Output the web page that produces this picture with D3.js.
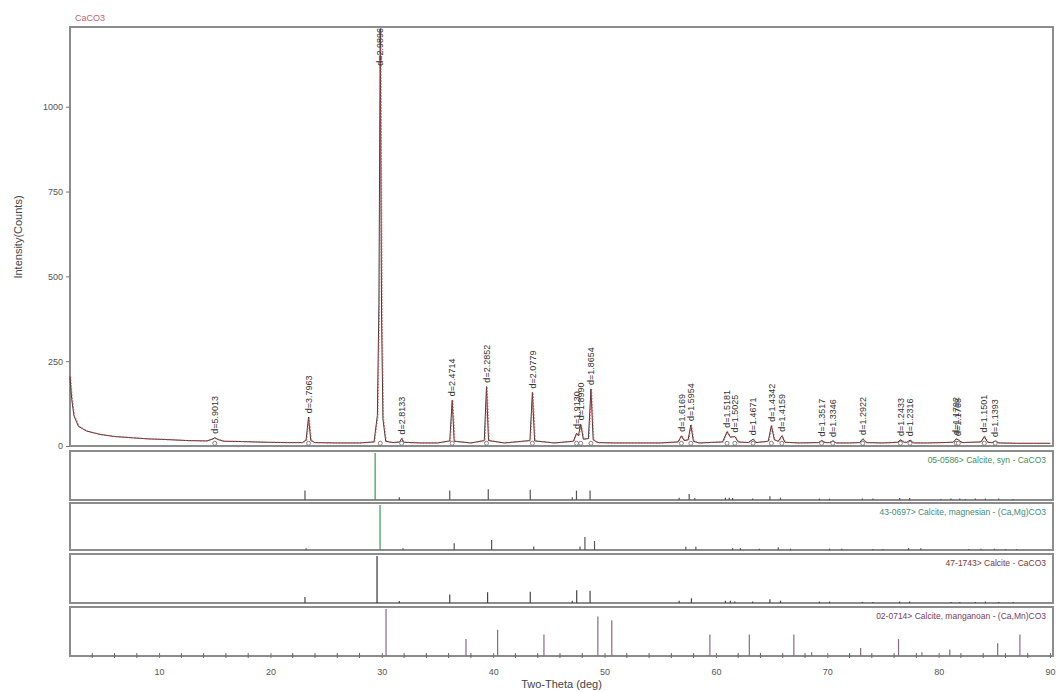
<!DOCTYPE html>
<html>
<head>
<meta charset="utf-8">
<script src="https://cdn.jsdelivr.net/npm/d3@7"></script>
<style>
  body { margin: 0; background: #fff; }
  svg { font-family: "Liberation Sans", Arial, sans-serif; }
  .tick text { fill: #555; font-size: 9px; }
  .tick line { stroke: #777; }
</style>
</head>
<body>
<svg width="1057" height="692"></svg>
<script>
var frame = {left: 70, right: 1053, top: 27, bottom: 446};

// measured profile, [two-theta, counts]
var profile = [
  [2.0,205],[2.15,140],[2.35,90],[2.75,58],[3.5,44],[4.7,34],[6.0,28],[7.7,24],[9.0,21],
  [10.7,19],[12.5,16],[14.3,15],[14.75,20],[15.0,24],[15.3,19],[15.8,14],[17.5,13],[19.7,11],
  [21.5,10],[22.9,10],[23.2,18],[23.42,85],[23.62,16],[24.0,10],[26.0,9],[28.0,9],[29.3,12],
  [29.6,90],[29.74,420],[29.86,1230],[29.98,380],[30.1,80],[30.35,14],[31.0,10],[31.6,12],
  [31.78,22],[31.95,11],[33.5,9],[35.0,9],[36.1,15],[36.32,135],[36.5,14],[38.0,9],[39.2,16],
  [39.40,175],[39.58,16],[41.0,9],[43.3,16],[43.52,158],[43.72,15],[45.5,9],[47.2,14],
  [47.49,38],[47.65,30],[47.86,64],[48.1,20],[48.55,22],[48.78,168],[48.98,18],[49.4,10],
  [51.0,9],[53.0,9],[55.0,9],[56.6,12],[56.9,30],[57.15,16],[57.5,18],[57.75,62],[57.98,14],
  [58.5,9],[60.6,12],[61.0,42],[61.3,26],[61.7,28],[62.0,12],[62.9,10],[63.34,20],[63.6,10],
  [64.7,14],[64.98,60],[65.25,18],[65.6,14],[65.92,30],[66.2,11],[67.5,9],[69.2,10],[69.49,16],
  [69.8,10],[70.2,10],[70.5,15],[70.8,9],[72.0,9],[72.9,10],[73.18,21],[73.5,10],[75.0,9],
  [76.3,11],[76.57,18],[76.9,11],[77.15,11],[77.43,17],[77.75,9],[79.0,9],[81.3,11],[81.58,21],
  [81.77,18],[82.1,10],[83.8,12],[84.10,28],[84.4,11],[84.8,10],[85.08,15],[85.4,9],[87.0,8],
  [88.5,8],[90.0,8]
];

// labelled peaks, [two-theta, counts, label]
var peaks = [
  [15.0,24,"d=5.9013"],[23.42,85,"d=3.7963"],[29.86,1230,"d=2.9896"],[31.78,22,"d=2.8133"],
  [36.32,135,"d=2.4714"],[39.40,175,"d=2.2852"],[43.52,158,"d=2.0779"],[47.49,38,"d=1.9130"],
  [47.86,64,"d=1.8990"],[48.78,168,"d=1.8654"],[56.9,30,"d=1.6169"],[57.75,62,"d=1.5954"],
  [61.0,42,"d=1.5181"],[61.7,28,"d=1.5025"],[63.34,20,"d=1.4671"],[64.98,60,"d=1.4342"],
  [65.92,30,"d=1.4159"],[69.49,16,"d=1.3517"],[70.5,15,"d=1.3346"],[73.18,21,"d=1.2922"],
  [76.57,18,"d=1.2433"],[77.43,17,"d=1.2316"],[81.58,21,"d=1.1792"],[81.77,18,"d=1.1768"],
  [84.10,28,"d=1.1501"],[85.08,15,"d=1.1393"]
];

var yTicks = [0, 250, 500, 750, 1000];
var xMajor = [10, 20, 30, 40, 50, 60, 70, 80, 90];
var xMinor = [4, 6, 8, 12, 14, 16, 18, 22, 24, 26, 28, 32, 34, 36, 38, 42, 44, 46, 48,
  52, 54, 56, 58, 62, 64, 66, 68, 72, 74, 76, 78, 82, 84, 86, 88];

// reference patterns, [two-theta, relative intensity]
var card1 = [[23.1,20],[29.4,100],[31.57,6],[36.1,20],[39.56,23],[43.33,22],[47.1,6],[47.48,20],
  [48.7,20],[56.7,5],[57.6,13],[58.1,4],[60.85,5],[61.2,5],[61.5,4],[63.3,3],[64.85,8],[65.8,5],
  [69.3,3],[70.2,3],[73.15,3],[74.1,3],[76.5,4],[77.4,4],[80.2,2],[81.1,3],[81.9,3],[82.4,2],
  [83.3,3],[84.2,3],[85.4,3],[86.7,2]];
var card2 = [[23.2,4],[29.84,100],[31.9,4],[36.5,15],[39.86,22],[43.64,8],[47.8,8],[48.24,29],
  [49.1,20],[57.3,7],[58.2,7],[61.5,4],[62.2,4],[63.9,3],[65.6,6],[66.7,3],[70.2,3],[71.3,3],
  [74.1,2],[75.0,2],[77.3,4],[78.4,4],[82.7,2],[83.8,3],[85.0,3],[86.0,2],[87.0,2]];
var card3 = [[23.1,13],[29.57,100],[31.57,4],[36.1,18],[39.5,23],[43.33,24],[47.1,5],[47.5,27],
  [48.7,26],[56.7,5],[57.8,10],[60.85,5],[61.3,5],[61.7,3],[63.3,3],[64.85,8],[65.8,5],
  [69.3,3],[70.2,3],[73.15,2],[74.1,2],[76.5,3],[77.4,3],[81.1,2],[81.9,2],[83.3,2],[84.2,3],
  [85.4,2],[86.7,2]];
var card4 = [[30.38,100],[37.56,36],[40.4,56],[44.56,46],[49.4,84],[50.65,76],[59.46,46],
  [63.0,46],[67.0,46],[68.6,8],[73.0,17],[76.4,36],[78.5,8],[81.0,14],[85.3,27],[87.3,46]];

var cards = [
  {data: card1, name: "05-0586> Calcite, syn - CaCO3", top: 451, bottom: 500,
   textColor: "#3f8f5c", mainColor: "#3a9a50", color: "#555"},
  {data: card2, name: "43-0697> Calcite, magnesian - (Ca,Mg)CO3", top: 503, bottom: 550,
   textColor: "#3f8c78", mainColor: "#3a9a50", color: "#555"},
  {data: card3, name: "47-1743> Calcite - CaCO3", top: 554, bottom: 603,
   textColor: "#7a3838", mainColor: "#333", color: "#444"},
  {data: card4, name: "02-0714> Calcite, manganoan - (Ca,Mn)CO3", top: 607, bottom: 656,
   textColor: "#7a4060", mainColor: "#8a6a82", color: "#8a6a82"}
];

var svg = d3.select("svg");
var x = d3.scaleLinear().domain([2, 90.27]).range([frame.left, frame.right]);
var y = d3.scaleLinear().domain([0, 1235]).range([frame.bottom, frame.top]);

var plotProfile = function() {
  var g = svg.append("g");
  g.append("rect")
    .attr("x", frame.left).attr("y", frame.top)
    .attr("width", frame.right - frame.left).attr("height", frame.bottom - frame.top)
    .attr("fill", "none").attr("stroke", "#8c8c8c").attr("stroke-width", 2);

  g.append("g")
    .attr("transform", "translate(" + frame.left + ",0)")
    .call(d3.axisLeft(y).tickValues(yTicks).tickSize(4).tickPadding(3)
      .tickFormat(d3.format("d")))
    .call(function(a) { a.select(".domain").remove(); });

  var line = d3.line()
    .x(function(d) { return x(d[0]); })
    .y(function(d) { return y(d[1]); });

  g.append("path").datum(profile)
    .attr("fill", "none").attr("stroke", "#3a3535").attr("stroke-width", 1)
    .attr("d", line);
  g.append("path").datum(profile)
    .attr("fill", "none").attr("stroke", "#d84848").attr("stroke-width", 1.2)
    .attr("stroke-dasharray", "1.5,1.5").attr("stroke-opacity", 0.8)
    .attr("transform", "translate(0.6,0)")
    .attr("d", line);

  g.selectAll(".mark").data(peaks).enter().append("circle")
    .attr("cx", function(d) { return x(d[0]); })
    .attr("cy", y(8))
    .attr("r", 2)
    .attr("fill", "#fff").attr("stroke", "#666").attr("stroke-width", 0.8);

  g.selectAll(".plabel").data(peaks).enter().append("text")
    .attr("font-size", 9).attr("fill", "#333")
    .attr("dy", "0.35em")
    .text(function(d) { return d[2]; })
    .each(function(d) {
      var len = this.getComputedTextLength();
      var start = y(d[1]) - 4;
      if (start - len < frame.top + 1) { start = frame.top + 1 + len; }
      d3.select(this).attr("transform",
        "translate(" + x(d[0]) + "," + start + ") rotate(-90)");
    });

  svg.append("text")
    .attr("x", 75).attr("y", 21)
    .attr("font-size", 9).attr("fill", "#c8606a")
    .text("CaCO3");

  svg.append("text")
    .attr("transform", "translate(22,237) rotate(-90)")
    .attr("text-anchor", "middle")
    .attr("font-size", 11).attr("fill", "#444")
    .text("Intensity(Counts)");
}

var plotCard = function(card) {
  var g = svg.append("g");
  var ys = d3.scaleLinear().domain([0, 100]).range([card.bottom, card.top + 2]);
  g.append("rect")
    .attr("x", frame.left).attr("y", card.top)
    .attr("width", frame.right - frame.left).attr("height", card.bottom - card.top)
    .attr("fill", "none").attr("stroke", "#8c8c8c").attr("stroke-width", 2);
  g.selectAll("line").data(card.data).enter().append("line")
    .attr("x1", function(d) { return x(d[0]); })
    .attr("x2", function(d) { return x(d[0]); })
    .attr("y1", ys(0))
    .attr("y2", function(d) { return ys(d[1]); })
    .attr("stroke", function(d) { return d[1] == 100 ? card.mainColor : card.color; })
    .attr("stroke-width", 1.2);
  g.append("text")
    .attr("x", frame.right - 7).attr("y", card.top + 12)
    .attr("text-anchor", "end")
    .attr("font-size", 8.5).attr("fill", card.textColor)
    .text(card.name);
}

var plotXAxis = function() {
  var base = cards[cards.length - 1].bottom;
  var g = svg.append("g").attr("transform", "translate(0," + (base + 2) + ")");
  g.call(d3.axisBottom(x).tickValues(xMajor).tickSize(5).tickPadding(6)
      .tickFormat(d3.format("d")))
    .call(function(a) {
      a.select(".domain").remove();
      a.selectAll(".tick line").attr("y1", -5).attr("y2", 0).attr("stroke", "#666");
    });
  g.selectAll(".minor").data(xMinor).enter().append("line")
    .attr("x1", function(d) { return x(d); })
    .attr("x2", function(d) { return x(d); })
    .attr("y1", -5).attr("y2", 0)
    .attr("stroke", "#666");
  svg.append("text")
    .attr("x", (frame.left + frame.right) / 2).attr("y", 688)
    .attr("text-anchor", "middle")
    .attr("font-size", 11).attr("fill", "#444")
    .text("Two-Theta (deg)");
}

plotProfile();
cards.forEach(plotCard);
plotXAxis();
</script>
</body>
</html>
